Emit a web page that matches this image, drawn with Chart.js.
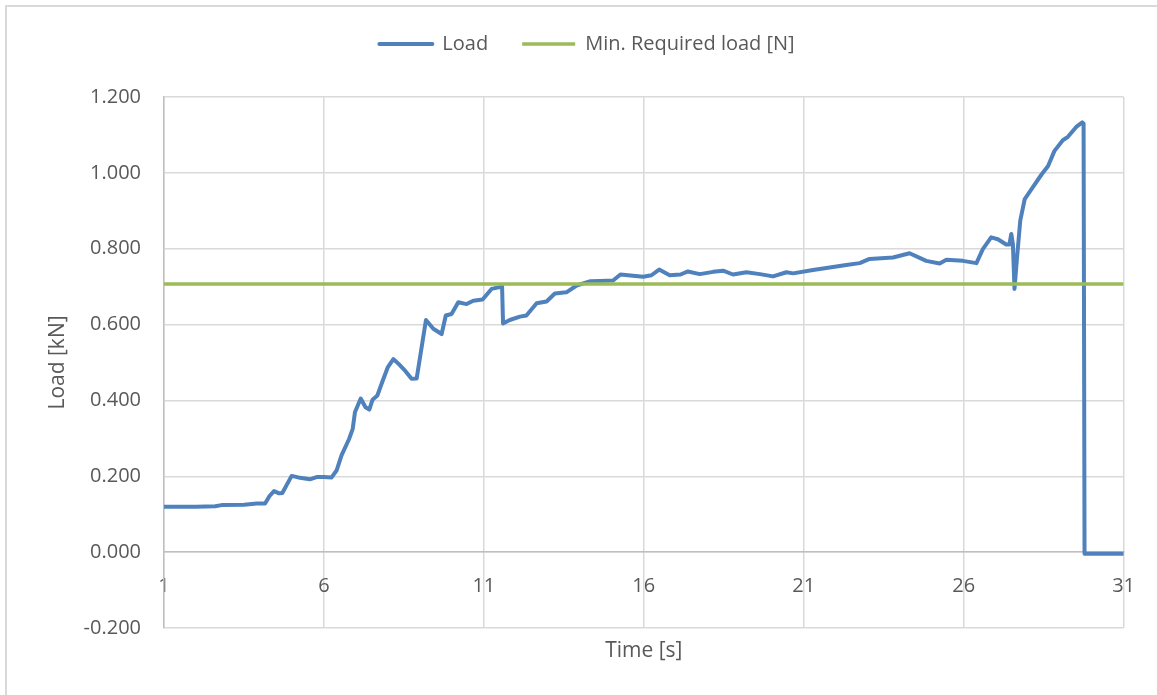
<!DOCTYPE html>
<html>
<head>
<meta charset="utf-8">
<title>Load vs time</title>
<script src="https://cdn.jsdelivr.net/npm/chart.js@4.4.0/dist/chart.umd.min.js"></script>
<style>
  html, body { margin: 0; padding: 0; background: #fff; }
  #wrap { width: 1157px; height: 695px; position: relative; }
</style>
</head>
<body>
<div id="wrap"><canvas id="loadChart"></canvas></div>
<script>
// values
const timeS = [
  1.0, 2.0, 2.6, 2.8, 3.5, 3.9, 4.16, 4.3, 4.44, 4.6, 4.7, 4.99, 5.2, 5.56, 5.77, 6.0,
  6.24, 6.4, 6.55, 6.79, 6.9, 6.97, 7.15, 7.3, 7.42, 7.52, 7.67, 7.82, 8.0, 8.17, 8.35,
  8.55, 8.74, 8.9, 9.19, 9.42, 9.68, 9.81, 9.99, 10.2, 10.46, 10.67, 10.96, 11.24, 11.57,
  11.6, 11.81, 12.13, 12.33, 12.65, 12.96, 13.22, 13.58, 13.9, 14.31, 14.63, 15.04, 15.27,
  15.98, 16.24, 16.48, 16.81, 17.15, 17.38, 17.75, 18.17, 18.48, 18.79, 19.21, 19.63,
  20.04, 20.46, 20.67, 21.29, 21.71, 22.33, 22.75, 23.06, 23.79, 24.31, 24.83, 25.25,
  25.46, 25.98, 26.4, 26.6, 26.86, 27.07, 27.33, 27.43, 27.49, 27.54, 27.59, 27.67, 27.77,
  27.91, 28.17, 28.43, 28.64, 28.84, 29.1, 29.26, 29.52, 29.71, 29.75, 29.78, 31.0
];
const loadKN = [
  0.120, 0.120, 0.121, 0.124, 0.125, 0.128, 0.128, 0.148, 0.161, 0.155, 0.156, 0.201, 0.197, 0.192, 0.198, 0.198,
  0.197, 0.216, 0.255, 0.299, 0.325, 0.369, 0.405, 0.382, 0.376, 0.402, 0.413, 0.448, 0.488, 0.509, 0.495,
  0.477, 0.457, 0.458, 0.612, 0.589, 0.575, 0.624, 0.628, 0.659, 0.654, 0.663, 0.666, 0.694, 0.700,
  0.603, 0.612, 0.621, 0.624, 0.656, 0.661, 0.682, 0.685, 0.703, 0.714, 0.715, 0.716, 0.732,
  0.726, 0.730, 0.745, 0.730, 0.732, 0.740, 0.733, 0.739, 0.742, 0.732, 0.738, 0.733,
  0.727, 0.738, 0.735, 0.744, 0.749, 0.757, 0.762, 0.773, 0.777, 0.788, 0.768, 0.761,
  0.771, 0.768, 0.762, 0.799, 0.830, 0.825, 0.811, 0.811, 0.839, 0.812, 0.694, 0.777, 0.874,
  0.931, 0.963, 0.995, 1.018, 1.058, 1.086, 1.095, 1.121, 1.133, 1.130, -0.004, -0.004
];
const minRequiredTime = [1, 31];
const minRequiredLoad = [0.707, 0.707];

const xTicks = [1, 6, 11, 16, 21, 26, 31];
const yTicks = [-0.2, 0, 0.2, 0.4, 0.6, 0.8, 1.0, 1.2];

const textGray = "#595959";
const gridGray = "#d9d9d9";
const axisGray = "#bfbfbf";

Chart.defaults.font.family = "'Open Sans', sans-serif";
Chart.defaults.font.size = 20;
Chart.defaults.color = textGray;

// white background and the thin outer frame
const framePlugin = {
  id: "frame",
  afterLayout(chart) {
    // the legend sits a little right of centre in the original
    chart.legend.left += 25;
    chart.legend.right += 25;
  },
  beforeDraw(chart) {
    const ctx = chart.ctx;
    ctx.save();
    ctx.fillStyle = "#fff";
    ctx.fillRect(0, 0, chart.width, chart.height);
    ctx.strokeStyle = gridGray;
    ctx.lineWidth = 2;
    ctx.strokeRect(6, 6, chart.width + 20, chart.height + 20);
    ctx.restore();
  }
};

const ctx = document.getElementById("loadChart");
new Chart(ctx, {
  type: "line",
  data: {
    datasets: [
      {
        label: "Load",
        data: timeS.map((t, i) => ({ x: t, y: loadKN[i] })),
        borderColor: "#4f81bd",
        backgroundColor: "#4f81bd",
        borderWidth: 4,
        pointRadius: 0,
        tension: 0,
        borderJoinStyle: "round",
        borderCapStyle: "round",
        xAxisID: "x",
        yAxisID: "y",
        order: 1
      },
      {
        label: "Min. Required load [N]",
        data: minRequiredTime.map((t, i) => ({ x: t, y: minRequiredLoad[i] })),
        borderColor: "#9bbb59",
        backgroundColor: "#9bbb59",
        borderWidth: 3.5,
        pointRadius: 0,
        xAxisID: "x",
        yAxisID: "y",
        order: 0
      }
    ]
  },
  options: {
    responsive: true,
    maintainAspectRatio: false,
    animation: false,
    layout: { padding: { top: 0, left: 0, right: 33, bottom: 0 } },
    plugins: {
      legend: {
        position: "top",
        labels: {
          boxWidth: 53,
          boxHeight: 0,
          padding: 34,
          color: textGray,
          font: { size: 20 },
          sort: (a, b) => a.datasetIndex - b.datasetIndex
        }
      },
      tooltip: { enabled: false }
    },
    scales: {
      x: {
        type: "linear",
        position: { y: 0 },
        min: 1,
        max: 31,
        afterBuildTicks: (scale) => { scale.ticks = xTicks.map((v) => ({ value: v })); },
        grid: { color: gridGray, lineWidth: 1.5, drawTicks: false },
        border: { color: axisGray, width: 1.5 },
        ticks: { padding: 22, maxRotation: 0, autoSkip: false }
      },
      xTitle: {
        type: "linear",
        position: "bottom",
        min: 1,
        max: 31,
        grid: { display: false },
        border: { display: false },
        ticks: { display: false },
        title: { display: true, text: "Time [s]", font: { size: 21 }, padding: { top: 0, bottom: 31 } },
        afterFit: (scale) => { scale.height = 67; }
      },
      topGap: {
        type: "linear",
        position: "top",
        grid: { display: false },
        border: { display: false },
        ticks: { display: false },
        afterFit: (scale) => { scale.height = 33; }
      },
      y: {
        type: "linear",
        min: -0.2,
        max: 1.2,
        afterBuildTicks: (scale) => { scale.ticks = yTicks.map((v) => ({ value: v })); },
        grid: { color: gridGray, lineWidth: 1.5, drawTicks: false },
        border: { color: axisGray, width: 1.5 },
        ticks: {
          padding: 23,
          callback: (v) => Number(v).toFixed(3)
        },
        title: { display: true, text: "Load [kN]", font: { size: 21 }, padding: { top: 45 } },
        afterFit: (scale) => { scale.width = 164; }
      }
    }
  },
  plugins: [framePlugin]
});
</script>
</body>
</html>
